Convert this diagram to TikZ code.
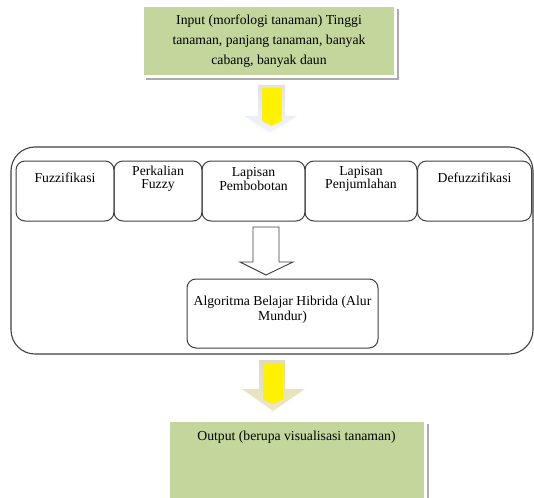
\documentclass[tikz,border=0pt]{standalone}
\usepackage{fontspec}
\setmainfont{Liberation Serif}
\usetikzlibrary{shadows}
\definecolor{leaf}{HTML}{C3D69B}
\definecolor{frame}{HTML}{404040}
\definecolor{arrowgray}{HTML}{C9CCD3}
\definecolor{arrowkhaki}{HTML}{D8D2AE}
\tikzset{
  txt/.style={font=\fontsize{13.7}{13.3}\selectfont, inner sep=0pt, align=center, text=black},
  greenbox/.style={draw=white, line width=3pt, fill=leaf,
    drop shadow={shadow xshift=3.5pt, shadow yshift=-3.5pt, fill=gray!65, opacity=1}},
  outerbox/.style={draw=frame, line width=1.1pt, rounded corners=24pt},
  layerbox/.style={draw=frame, line width=1pt, rounded corners=9pt, minimum height=60pt},
  hollowarrow/.style={draw=frame, line width=0.9pt, fill=white},
}
\begin{document}
\begin{tikzpicture}[x=1pt,y=-1pt]
\useasboundingbox[fill=white] (0,0) rectangle (534,497);

% input box
\node[greenbox, minimum width=253pt, minimum height=71pt] (inp) at (269,41) {};
\node[txt, font=\fontsize{13.7}{19.8}\selectfont] (inptxt) at (inp.center)
  {Input (morfologi tanaman) Tinggi\\tanaman, panjang tanaman, banyak\\cabang, banyak daun};

% first yellow arrow
\shade[top color=arrowgray!55, bottom color=arrowgray!120!black]
  (258,85) -- (285,85) -- (285,116) -- (297,116) -- (270,133) -- (244,116) -- (258,116) -- cycle;
\fill[yellow] (262,88) -- (281.5,88) -- (281.5,121) -- (271.5,126) -- (262,121) -- cycle;

% main layer container
\node[outerbox, minimum width=522pt, minimum height=207pt] (main) at (272,250.5) {};

% layer boxes
\node[layerbox, minimum width=98pt] (fz) at (65,191) {};
\node[layerbox, minimum width=88pt] (pf) at (158,191) {};
\node[layerbox, minimum width=103pt] (lb) at (253.5,191) {};
\node[layerbox, minimum width=112pt] (lj) at (361,191) {};
\node[layerbox, minimum width=114pt] (df) at (474.5,191) {};
\node[txt] (fztxt) at (65,178) {Fuzzifikasi};
\node[txt] (pftxt) at (158,179) {Perkalian\\Fuzzy};
\node[txt] (lbtxt) at (253.5,179) {Lapisan\\Pembobotan};
\node[txt] (ljtxt) at (361,179) {Lapisan\\Penjumlahan};
\node[txt] (dftxt) at (474.5,178) {Defuzzifikasi};

% hollow arrow to the learning box
\draw[hollowarrow] (253,227) -- (279,227) -- (279,262) -- (293,262) -- (266,275)
  -- (240,262) -- (253,262) -- cycle;

% hybrid learning box
\node[layerbox, minimum width=191pt, minimum height=69pt] (alg) at (282.5,313.5) {};
\node[txt, font=\fontsize{13.7}{15}\selectfont] (algtxt) at (282.5,310)
  {Algoritma Belajar Hibrida (Alur\\Mundur)};

% second yellow arrow
\shade[top color=arrowkhaki!80, bottom color=arrowkhaki!110!black]
  (259,360) -- (285,360) -- (285,389) -- (305,389) -- (273,411) -- (242,389) -- (259,389) -- cycle;
\fill[yellow] (263,363) -- (283,363) -- (283,399) -- (273,404) -- (263,399) -- cycle;

% output box
\node[greenbox, minimum width=257pt, minimum height=80pt] (out) at (296.5,460) {};
\node[txt] (outtxt) at (296.5,437) {Output (berupa visualisasi tanaman)};
\end{tikzpicture}
\end{document}
